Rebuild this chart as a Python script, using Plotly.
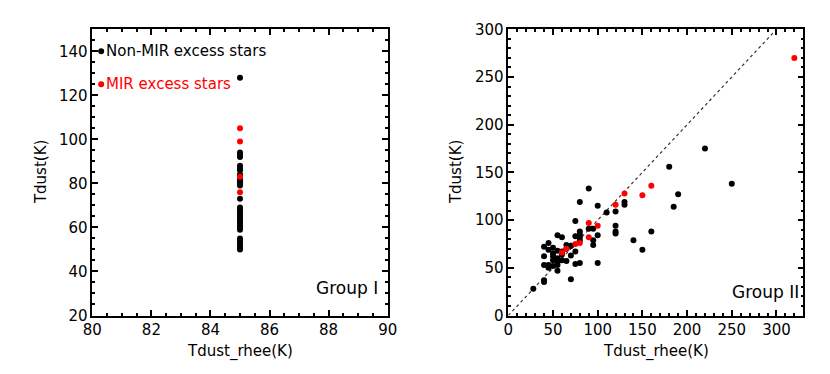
import plotly.graph_objects as go

# ---------------- data ----------------
# Group I (left panel)
g1_black_x = [85] * 30
g1_black_y = [128, 94, 93, 92, 88, 87, 86, 84, 82, 81, 80, 79, 73, 69, 68, 67, 66, 65,
              64, 63, 62, 61, 60, 59, 55, 54, 53, 52, 51, 50]
g1_red_x = [85] * 4
g1_red_y = [105, 99, 83, 76]

# Group II (right panel)
g2_black_x = [220, 180, 250, 190, 185, 90, 80, 100, 110, 120, 130, 130, 120, 120, 120,
              160, 140, 150, 75, 90, 95, 100, 95, 95, 80, 80, 80, 80, 75, 75, 75, 80,
              70, 70, 70, 65, 60, 55, 60, 45, 40, 40, 40, 40, 40, 45, 45, 50, 50, 50,
              50, 55, 55, 55, 55, 55, 60, 60, 65, 65, 70, 28, 100, 50, 45]
g2_black_y = [175, 156, 138, 127, 114, 133, 119, 115, 108, 109, 119, 116, 94, 88, 86,
              88, 79, 69, 99, 91, 91, 84, 79, 74, 88, 85, 82, 79, 83, 67, 54, 55,
              73, 63, 38, 57, 64, 84, 82, 76, 72, 62, 53, 37, 35, 53, 50, 71, 65, 58,
              52, 68, 60, 56, 53, 47, 67, 58, 74, 70, 73, 28, 55, 62, 69]
g2_red_x = [320, 160, 150, 130, 120, 100, 90, 90, 80, 75, 65, 60]
g2_red_y = [270, 136, 126, 128, 116, 94, 97, 82, 76, 75, 70, 66]

# legend entries (left panel, data coordinates)
legend_x = [80.3, 80.3]
legend_y = [140, 125]
legend_text = ["Non-MIR excess stars", "MIR excess stars"]

# 1:1 reference line (right panel)
ref_x = [0, 300]
ref_y = [0, 300]

# axis settings
left_xrange, left_xdtick, left_xminor = [80, 90], 2, 0.5
left_yrange, left_ydtick, left_yminor = [20, 150], 20, 5
right_xrange, right_xdtick, right_xminor = [0, 330], 50, 10
right_yrange, right_ydtick, right_yminor = [0, 300], 50, 10

FONT = "DejaVu Sans"
BLACK = "#000000"
RED = "#ff0000"
MS = 6

# the page body has an 8px margin: size the figure so it fits the 830x374 window
OFF = 8
W, H = 830 - OFF, 374 - OFF


def px_x(p):
    return (p - OFF) / W


def px_y(p):
    return 1 - (p - OFF) / H


left_dom = [px_x(92.3), px_x(387.7)]
right_dom = [px_x(508.3), px_x(803.3)]
ydom = [px_y(315.5), px_y(29.3)]

fig = go.Figure()

# Left panel
fig.add_trace(go.Scatter(x=g1_black_x, y=g1_black_y, mode="markers",
                         marker=dict(color=BLACK, size=MS), xaxis="x", yaxis="y"))
fig.add_trace(go.Scatter(x=g1_red_x, y=g1_red_y, mode="markers",
                         marker=dict(color=RED, size=MS), xaxis="x", yaxis="y"))
fig.add_trace(go.Scatter(x=legend_x[:1], y=legend_y[:1], mode="markers",
                         marker=dict(color=BLACK, size=MS), xaxis="x", yaxis="y"))
fig.add_trace(go.Scatter(x=legend_x[1:], y=legend_y[1:], mode="markers",
                         marker=dict(color=RED, size=MS), xaxis="x", yaxis="y"))

# Right panel
fig.add_trace(go.Scatter(x=g2_black_x, y=g2_black_y, mode="markers",
                         marker=dict(color=BLACK, size=MS), xaxis="x2", yaxis="y2"))
fig.add_trace(go.Scatter(x=g2_red_x, y=g2_red_y, mode="markers",
                         marker=dict(color=RED, size=MS), xaxis="x2", yaxis="y2"))

tickfont = dict(family=FONT, size=15, color=BLACK)


def ax(rng, dtick, minor_dtick, domain, anchor):
    return dict(range=rng, dtick=dtick, domain=domain, anchor=anchor,
                showline=True, linecolor=BLACK, linewidth=1.5, mirror="allticks",
                ticks="inside", ticklen=6, tickwidth=1.5, tickcolor=BLACK,
                minor=dict(dtick=minor_dtick, ticks="inside", ticklen=3,
                           tickwidth=1.5, tickcolor=BLACK, showgrid=False),
                showgrid=False, zeroline=False, tickfont=tickfont, automargin=False)


shapes = [dict(type="line", xref="x2", yref="y2",
               x0=ref_x[0], y0=ref_y[0], x1=ref_x[1], y1=ref_y[1],
               line=dict(color="#333333", width=1.2, dash="dot"), layer="below")]

titlefont = dict(family=FONT, size=15, color=BLACK)
ymid = (ydom[0] + ydom[1]) / 2
annotations = [
    dict(text="Tdust_rhee(K)", x=sum(left_dom) / 2, y=px_y(351.7), xref="paper",
         yref="paper", showarrow=False, font=titlefont, xanchor="center", yanchor="middle"),
    dict(text="Tdust_rhee(K)", x=sum(right_dom) / 2, y=px_y(351.7), xref="paper",
         yref="paper", showarrow=False, font=titlefont, xanchor="center", yanchor="middle"),
    dict(text="Tdust(K)", x=px_x(41.7), y=ymid, xref="paper", yref="paper", textangle=-90,
         showarrow=False, font=titlefont, xanchor="center", yanchor="middle"),
    dict(text="Tdust(K)", x=px_x(456.7), y=ymid, xref="paper", yref="paper", textangle=-90,
         showarrow=False, font=titlefont, xanchor="center", yanchor="middle"),
    dict(text="Group I", x=89.74, y=32.5, xref="x", yref="y", xanchor="right",
         yanchor="middle", showarrow=False, font=dict(family=FONT, size=17, color=BLACK)),
    dict(text="Group II", x=327, y=25, xref="x2", yref="y2", xanchor="right",
         yanchor="middle", showarrow=False, font=dict(family=FONT, size=17, color=BLACK)),
]
for lx, ly, lt, col in zip(legend_x, legend_y, legend_text, (BLACK, RED)):
    annotations.append(dict(text=lt, x=lx, y=ly, xref="x", yref="y", xanchor="left",
                            yanchor="middle", xshift=3, showarrow=False,
                            font=dict(family=FONT, size=15, color=col)))

fig.update_layout(
    width=W, height=H, showlegend=False,
    margin=dict(l=0, r=0, t=0, b=0),
    paper_bgcolor="white", plot_bgcolor="white",
    xaxis=ax(left_xrange, left_xdtick, left_xminor, left_dom, "y"),
    yaxis=ax(left_yrange, left_ydtick, left_yminor, ydom, "x"),
    xaxis2=ax(right_xrange, right_xdtick, right_xminor, right_dom, "y2"),
    yaxis2=ax(right_yrange, right_ydtick, right_yminor, ydom, "x2"),
    shapes=shapes,
    annotations=annotations,
)

fig.write_html("out.html")
